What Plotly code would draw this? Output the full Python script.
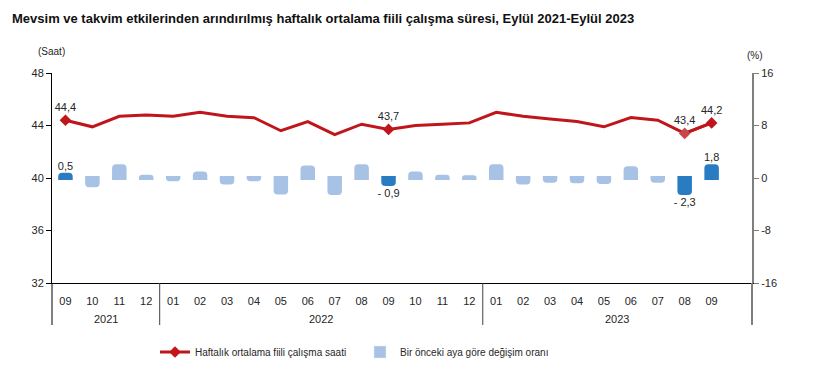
import plotly.graph_objects as go

months = ["09", "10", "11", "12", "01", "02", "03", "04", "05", "06", "07", "08", "09",
          "10", "11", "12", "01", "02", "03", "04", "05", "06", "07", "08", "09"]
years = ["2021", "2022", "2023"]
year_counts = [4, 12, 9]
hours = [44.4, 43.9, 44.7, 44.8, 44.7, 45.0, 44.7, 44.6, 43.6, 44.3, 43.3, 44.1, 43.7,
         44.0, 44.1, 44.2, 45.0, 44.7, 44.5, 44.3, 43.9, 44.6, 44.4, 43.4, 44.2]
change = [0.5, -1.1, 1.8, 0.2, -0.2, 0.7, -0.7, -0.2, -2.2, 1.6, -2.3, 1.8, -0.9,
          0.7, 0.2, 0.1, 1.8, -0.7, -0.4, -0.5, -0.6, 1.5, -0.4, -2.3, 1.8]
highlight = [0, 12, 23, 24]
y1_ticks = [32, 36, 40, 44, 48]
y2_ticks = [-16, -8, 0, 8, 16]

line_name = "Haftalık ortalama fiili çalışma saati"
bar_name = "Bir önceki aya göre değişim oranı"
title = "Mevsim ve takvim etkilerinden arındırılmış haftalık ortalama fiili çalışma süresi, Eylül 2021-Eylül 2023"

RED = "#C0161B"
LIGHT = "#A7C2E5"
DARK = "#2A7CC2"
FONT = "Liberation Sans, Arial, sans-serif"
TXT = "#262626"

# page body has an 8px default margin: figure is sized to fit the window exactly
W, H = 810, 366
OFF = 8

x = list(range(len(months)))


def fmt(v):
    s = f"{abs(v):.1f}".replace(".", ",")
    return ("- " + s) if v < 0 else s


def num(v):
    return str(v).replace("-", "-")


bar_colors = [DARK if i in highlight else LIGHT for i in x]
bar_text = [fmt(v) if i in highlight else "" for i, v in enumerate(change)]

fig = go.Figure()
fig.add_trace(go.Bar(
    x=x, y=change, yaxis="y2", name=bar_name,
    marker=dict(color=bar_colors, cornerradius=2,
                line=dict(width=4, color=bar_colors)),
    width=0.39, text=bar_text, textposition="outside", constraintext="none",
    textfont=dict(size=11, color=TXT, family=FONT), cliponaxis=False,
    showlegend=False,
))
# legend entry for bars (light colour)
fig.add_trace(go.Bar(x=[None], y=[None], yaxis="y2", name=bar_name,
                     marker=dict(color=LIGHT), showlegend=True))

fig.add_trace(go.Scatter(
    x=x, y=hours, mode="lines", line=dict(color=RED, width=3),
    name=line_name, showlegend=False, legendgroup="l",
))
hl_y = [h if i in highlight else None for i, h in enumerate(hours)]
hl_text = [fmt(h) if i in highlight else "" for i, h in enumerate(hours)]
mk_colors = ["#C8474A" if i == 23 else RED for i in x]
fig.add_trace(go.Scatter(
    x=x, y=hl_y, mode="lines+markers+text", connectgaps=False,
    line=dict(color=RED, width=3),
    marker=dict(symbol="diamond", size=9, color=mk_colors),
    text=hl_text, textposition="top center",
    textfont=dict(size=11, color=TXT, family=FONT),
    name=line_name, legendgroup="l", cliponaxis=False,
))

# separators and extended axis lines
plot_h = H - 65 - 91
ext = -42 / plot_h
shapes = []
bounds = [-0.5]
acc = -0.5
for c in year_counts:
    acc += c
    bounds.append(acc)
bounds[-1] = len(months) + 0.5
for b in bounds[1:-1]:
    shapes.append(dict(type="line", xref="x", yref="paper", x0=b, x1=b, y0=0, y1=ext,
                       line=dict(color="#404040", width=1)))
shapes.append(dict(type="line", xref="paper", yref="paper", x0=0, x1=0, y0=0, y1=ext,
                   line=dict(color="black", width=1)))
shapes.append(dict(type="line", xref="paper", yref="paper", x0=1, x1=1, y0=0, y1=ext,
                   line=dict(color="#7F7F7F", width=2)))

annotations = []
for yr, a, b in zip(years, bounds[:-1], bounds[1:]):
    annotations.append(dict(text=yr, xref="x", yref="paper", x=(a + b) / 2,
                            y=-36 / plot_h,
                            showarrow=False, font=dict(size=11, color=TXT, family=FONT),
                            xanchor="center", yanchor="middle"))
annotations.append(dict(text="(Saat)", xref="paper", yref="paper", x=-1 / 700,
                        y=1 + 21 / plot_h,
                        showarrow=False, font=dict(size=10, color=TXT, family=FONT),
                        xanchor="center", yanchor="middle"))
annotations.append(dict(text="(%)", xref="paper", yref="paper", x=1 + 3 / 700,
                        y=1 + 18 / plot_h,
                        showarrow=False, font=dict(size=10, color=TXT, family=FONT),
                        xanchor="center", yanchor="middle"))

fig.update_layout(
    width=W, height=H,
    margin=dict(l=44, r=66, t=65, b=91, autoexpand=False),
    plot_bgcolor="white", paper_bgcolor="white",
    font=dict(family=FONT, size=11, color=TXT),
    title=dict(text="<b>" + title + "</b>", xref="container", yref="container",
               x=(12 - OFF) / W, y=1 - (18 - OFF) / H, xanchor="left", yanchor="middle",
               font=dict(size=13, color="#111", family=FONT)),
    xaxis=dict(range=[-0.5, len(months) + 0.5], tickvals=x, ticktext=months,
               showgrid=False, zeroline=False, showline=True, linecolor="black",
               linewidth=1, ticks="", ticklabelstandoff=8,
               tickfont=dict(size=11, color=TXT)),
    yaxis=dict(range=[32, 48], tickvals=y1_ticks, ticktext=[num(v) for v in y1_ticks],
               showgrid=False, zeroline=False, showline=True, linecolor="black",
               linewidth=1, ticks="outside", ticklen=5, tickcolor="black",
               tickfont=dict(size=11, color=TXT)),
    yaxis2=dict(range=[-16, 16], tickvals=y2_ticks, ticktext=[num(v) for v in y2_ticks],
                overlaying="y", side="right", showgrid=False, zeroline=False,
                showline=True, linecolor="#7F7F7F", linewidth=2, ticks="outside",
                ticklen=5, tickcolor="#7F7F7F", tickfont=dict(size=11, color=TXT)),
    legend=dict(orientation="h", x=(155 - 52) / 700, y=-69 / plot_h, xanchor="left",
                yanchor="middle", font=dict(size=10, color=TXT, family=FONT),
                entrywidth=160, traceorder="reversed", bgcolor="rgba(0,0,0,0)"),
    shapes=shapes, annotations=annotations,
)

fig.write_html("out.html")
